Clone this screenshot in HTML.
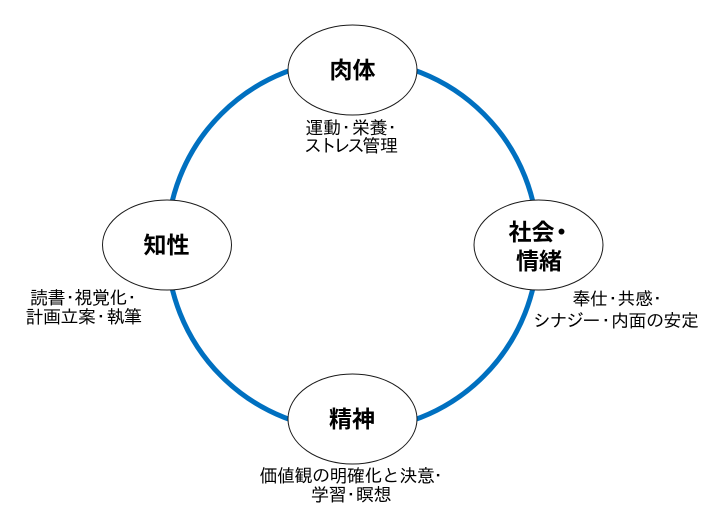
<!DOCTYPE html>
<html lang="ja">
<head>
<meta charset="utf-8">
<style>
html,body{margin:0;padding:0;background:#fff;width:725px;height:512px;overflow:hidden}
svg{display:block}
.b{font-family:"Liberation Sans","Noto Sans CJK JP",sans-serif;font-weight:700;font-size:23px;fill:#000}
.c{text-anchor:middle}
.t{font-family:"IPAGothic","Noto Sans CJK JP",sans-serif;font-size:18px;fill:#000}
</style>
</head>
<body>
<svg width="725" height="512" viewBox="0 0 725 512" xmlns="http://www.w3.org/2000/svg">
<circle cx="352.5" cy="245" r="185.5" fill="none" stroke="#0070C0" stroke-width="5"/>
<g fill="#fff" stroke="#1a1a1a" stroke-width="1">
<ellipse cx="352.5" cy="70" rx="64.5" ry="45"/>
<ellipse cx="538.5" cy="245" rx="64.5" ry="45"/>
<ellipse cx="167" cy="245" rx="64.5" ry="45"/>
<ellipse cx="352.5" cy="419" rx="64.5" ry="45"/>
</g>
<text class="b c" x="352.5" y="78">肉体</text>
<text class="b" x="508.5 531.5 550" y="240">社会・</text>
<text class="b c" x="539" y="269">情緒</text>
<text class="b c" x="166.5" y="253">知性</text>
<text class="b c" x="352" y="427">精神</text>
<text class="t" x="305.5 323 337 352 369.5 383" y="134">運動・栄養・</text>
<text class="t" x="304 319 333 347 362.5 380" y="152">ストレス管理</text>
<text class="t" x="572.5 590 603.75 617.5 635 648.25" y="305">奉仕・共感・</text>
<text class="t" x="533 549.5 566 582.5 596.75 611 628.5 646 663.5 681" y="327">シナジー・内面の安定</text>
<text class="t" x="30 47.5 61 74.5 92 109.5 122.75" y="304">読書・視覚化・</text>
<text class="t" x="25.5 43 60.5 78 91.75 106.5 124" y="323">計画立案・執筆</text>
<text class="t" x="259.5 277 294.5 312 329.5 347 364.5 382 399.5 417 429" y="482">価値観の明確化と決意・</text>
<text class="t" x="311 328.5 341.75 356 373.5" y="501">学習・瞑想</text>
</svg>
</body>
</html>
